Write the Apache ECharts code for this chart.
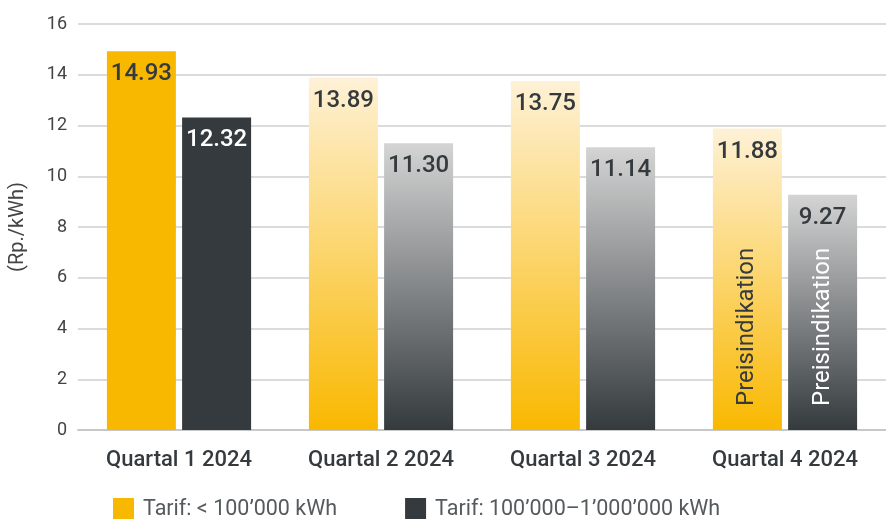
<!DOCTYPE html>
<html>
<head>
<meta charset="utf-8">
<script src="https://cdn.jsdelivr.net/npm/echarts@6/dist/echarts.min.js"></script>
<style>
html,body{margin:0;padding:0;background:#fff;}
#chart{width:886px;height:519px;}
</style>
</head>
<body>
<div id="chart"></div>
<script>
const categories = ['Quartal 1 2024', 'Quartal 2 2024', 'Quartal 3 2024', 'Quartal 4 2024'];
const smallTariff = [14.93, 13.89, 13.75, 11.88];
const midTariff = [12.32, 11.30, 11.14, 9.27];
const indicationSmall = [null, null, null, 11.88];
const indicationMid = [null, null, null, 9.27];
const seriesNames = ['Tarif: < 100\u2019000 kWh', 'Tarif: 100\u2019000\u20131\u2019000\u2019000 kWh'];
const yAxisName = '(Rp./kWh)';
const indicationText = 'Preisindikation';

const FONT = 'Roboto, "Noto Sans", sans-serif';
const ORANGE = '#F9B800';
const DARK = '#343A3D';
const TEXT = '#343A3D';

function grad(top, bottom) {
  return new echarts.graphic.LinearGradient(0, 0, 0, 1, [
    { offset: 0, color: top },
    { offset: 1, color: bottom }
  ]);
}

const orangeData = smallTariff.map((v, i) => ({
  value: v,
  itemStyle: { color: i === 0 ? ORANGE : grad('#FEF1D6', ORANGE) },
  label: { color: TEXT }
}));
const darkData = midTariff.map((v, i) => ({
  value: v,
  itemStyle: { color: i === 0 ? DARK : grad('#D4D4D4', DARK) },
  label: { color: i === 0 ? '#ffffff' : TEXT }
}));

const valueLabel = {
  show: true,
  position: 'insideTop',
  distance: 11,
  fontSize: 24,
  fontWeight: 500,
  fontFamily: FONT,
  formatter: p => p.value.toFixed(2)
};
const indicationLabel = (color) => ({
  show: true,
  position: 'insideBottom',
  distance: 24,
  rotate: 90,
  align: 'left',
  verticalAlign: 'middle',
  fontSize: 24,
  fontFamily: FONT,
  color: color,
  formatter: () => indicationText
});

const chart = echarts.init(document.getElementById('chart'), null, { renderer: 'canvas' });
chart.setOption({
  animation: false,
  backgroundColor: '#ffffff',
  textStyle: { fontFamily: FONT },
  grid: { left: 77, right: 0, top: 24, bottom: 89, containLabel: false },
  legend: {
    left: 108,
    top: 493,
    itemWidth: 21,
    itemHeight: 23,
    itemGap: 68,
    icon: 'rect',
    textStyle: { fontSize: 21.5, color: '#555a5d', fontFamily: FONT, padding: [0, 0, 0, 4] },
    data: [
      { name: seriesNames[0], itemStyle: { color: ORANGE } },
      { name: seriesNames[1], itemStyle: { color: DARK } }
    ]
  },
  xAxis: [
    {
      type: 'category',
      data: categories,
      axisLine: { show: true, lineStyle: { color: '#c8c8c8', width: 2 } },
      axisTick: { show: false },
      axisLabel: { fontSize: 22, fontWeight: 500, color: TEXT, margin: 19, fontFamily: FONT }
    },
    {
      type: 'category',
      data: categories,
      show: false
    }
  ],
  yAxis: {
    type: 'value',
    min: 0,
    max: 16,
    interval: 2,
    name: yAxisName,
    nameLocation: 'middle',
    nameGap: 50,
    nameTextStyle: { fontSize: 20, color: '#444', fontFamily: FONT },
    axisLine: { show: false },
    axisTick: { show: false },
    axisLabel: { fontSize: 18, color: '#444', margin: 11, fontFamily: FONT },
    splitLine: { lineStyle: { color: '#cfcfcf', width: 1.5 } }
  },
  series: [
    {
      name: seriesNames[0],
      type: 'bar',
      xAxisIndex: 0,
      barWidth: 69,
      barGap: '9%',
      data: orangeData,
      label: valueLabel
    },
    {
      name: seriesNames[1],
      type: 'bar',
      xAxisIndex: 0,
      barWidth: 69,
      barGap: '9%',
      data: darkData,
      label: valueLabel
    },
    {
      name: 'ind1',
      type: 'bar',
      xAxisIndex: 1,
      barWidth: 69,
      barGap: '9%',
      data: indicationSmall,
      itemStyle: { color: 'rgba(0,0,0,0)' },
      label: indicationLabel(TEXT),
      silent: true,
      z: 5
    },
    {
      name: 'ind2',
      type: 'bar',
      xAxisIndex: 1,
      barWidth: 69,
      barGap: '9%',
      data: indicationMid,
      itemStyle: { color: 'rgba(0,0,0,0)' },
      label: indicationLabel('#ffffff'),
      silent: true,
      z: 5
    }
  ]
});
</script>
</body>
</html>
